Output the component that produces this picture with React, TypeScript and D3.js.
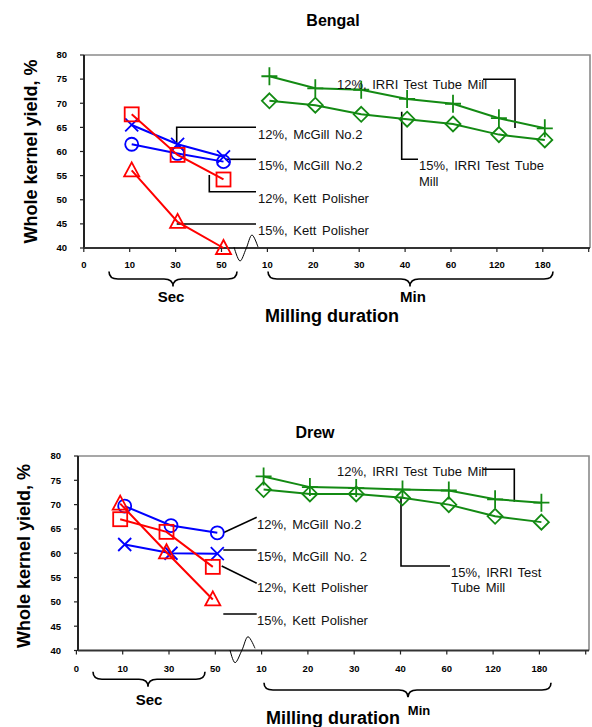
import React from "react";
import * as d3 from "d3";

// ---------- data ----------
const categories = ["0", "10", "30", "50", "10", "20", "30", "40", "60", "120", "180"];
const secIdx = [1, 2, 3];
const minIdx = [4, 5, 6, 7, 8, 9, 10];
const yTicks = [40, 45, 50, 55, 60, 65, 70, 75, 80];

// Bengal
const bengalMcGill12 = [65.5, 61.5, 58.9]; // X
const bengalMcGill15 = [61.5, 59.6, 57.9]; // circle
const bengalKett12 = [67.7, 59.3, 54.2]; // square
const bengalKett15 = [56.1, 45.4, 40.0]; // triangle
const bengalIrri12 = [75.6, 73.1, 72.8, 70.9, 69.9, 66.9, 64.8]; // plus
const bengalIrri15 = [70.5, 69.6, 67.7, 66.7, 65.7, 63.5, 62.4]; // diamond

// Drew
const drewMcGill12 = [69.7, 65.7, 64.2]; // circle
const drewMcGill15 = [61.8, 60.0, 59.9]; // X
const drewKett12 = [67.0, 64.4, 57.2]; // square
const drewKett15 = [70.2, 60.2, 50.5]; // triangle
const drewIrri12 = [75.8, 73.6, 73.4, 73.1, 72.9, 71.1, 70.4]; // plus
const drewIrri15 = [73.1, 72.2, 72.2, 71.4, 70.0, 67.6, 66.4]; // diamond

const BLUE = "#0000ff";
const RED = "#ff0000";
const GREEN = "#138a13";
const FONT = "'Liberation Sans', Arial, Helvetica, sans-serif";

type Series = { values: number[]; idx: number[]; color: string; marker: string; dx?: number };
type Ann = { lines: string[]; x: number; y: number; lh?: number; leader: [number, number][] };

function Marker({ type, cx, cy, color }: { type: string; cx: number; cy: number; color: string }) {
  const sw = 1.8;
  if (type === "circle") return <circle cx={cx} cy={cy} r={6.5} fill="none" stroke={color} strokeWidth={sw} />;
  if (type === "square") return <rect x={cx - 7} y={cy - 7} width={14} height={14} fill="none" stroke={color} strokeWidth={sw} />;
  if (type === "triangle")
    return <path d={`M${cx},${cy - 8}L${cx + 7.5},${cy + 6}L${cx - 7.5},${cy + 6}Z`} fill="none" stroke={color} strokeWidth={sw} />;
  if (type === "x")
    return (
      <path d={`M${cx - 6.5},${cy - 6.5}L${cx + 6.5},${cy + 6.5}M${cx - 6.5},${cy + 6.5}L${cx + 6.5},${cy - 6.5}`} stroke={color} strokeWidth={sw} />
    );
  if (type === "plus")
    return <path d={`M${cx - 8},${cy}L${cx + 8},${cy}M${cx},${cy - 9}L${cx},${cy + 9}`} stroke={color} strokeWidth={sw} />;
  if (type === "diamond")
    return <path d={`M${cx},${cy - 7.5}L${cx + 7.5},${cy}L${cx},${cy + 7.5}L${cx - 7.5},${cy}Z`} fill="none" stroke={color} strokeWidth={sw} />;
  return null;
}

function bracePath(x1: number, x2: number, xm: number, y0: number, d: number) {
  const h = d / 2;
  const r = 9;
  return `M${x1},${y0} Q${x1},${y0 + h} ${x1 + r},${y0 + h} L${xm - r},${y0 + h} Q${xm},${y0 + h} ${xm},${y0 + d} Q${xm},${y0 + h} ${xm + r},${y0 + h} L${x2 - r},${y0 + h} Q${x2},${y0 + h} ${x2},${y0}`;
}

type PanelProps = {
  title: string; titleX: number; titleY: number;
  left: number; top: number; bottom: number; right: number;
  xStart: number; step: number;
  yTitleX: number; yTitleY: number;
  tickLabelY: number;
  series: Series[];
  anns: Ann[];
  secBrace: [number, number, number, number, number];
  minBrace: [number, number, number, number, number];
  secText: [number, number]; minText: [number, number, number]; durText: [number, number];
  squiggle: [number, number][];
};

function Panel(p: PanelProps) {
  const x = d3.scaleLinear().domain([0, categories.length - 1]).range([p.xStart, p.xStart + p.step * (categories.length - 1)]);
  const y = d3.scaleLinear().domain([40, 80]).range([p.bottom, p.top]);
  const line = d3.line<[number, number]>().x((d) => d[0]).y((d) => d[1]);
  const squig = d3.line<[number, number]>().x((d) => d[0]).y((d) => d[1]).curve(d3.curveCatmullRom.alpha(0.5));
  const tickIdx = d3.range(0, categories.length + 1);
  return (
    <g fontFamily={FONT}>
      <text x={p.titleX} y={p.titleY} textAnchor="middle" fontWeight="bold" fontSize={16}>{p.title}</text>
      {/* frame */}
      <path d={`M${p.left},${p.top}H${p.right}V${p.bottom}`} fill="none" stroke="#8a8a8a" strokeWidth={1.6} />
      <line x1={p.left} x2={p.left} y1={p.top} y2={p.bottom} stroke="#222" strokeWidth={2} />
      <line x1={p.left} x2={p.right} y1={p.bottom} y2={p.bottom} stroke="#333" strokeWidth={1.8} />
      {/* y ticks */}
      {yTicks.map((t) => (
        <g key={t}>
          <line x1={p.left - 4} x2={p.left} y1={y(t)} y2={y(t)} stroke="#222" strokeWidth={1.2} />
          <text x={p.left - 17} y={y(t)} dy="0.35em" textAnchor="end" fontSize={9.5} fontWeight="bold">{t}</text>
        </g>
      ))}
      {/* x ticks */}
      {tickIdx.map((i) => (
        <line key={i} x1={x(i) - 2} x2={x(i) - 2} y1={p.bottom} y2={p.bottom + 4} stroke="#222" strokeWidth={1.2} />
      ))}
      {categories.map((c, i) => (
        <text key={i} x={x(i) - 2} y={p.tickLabelY} textAnchor="middle" fontSize={9.5} fontWeight="bold">{c}</text>
      ))}
      {/* squiggle */}
      <path d={squig(p.squiggle) || ""} fill="none" stroke="#000" strokeWidth={1} />
      {/* leaders */}
      {p.anns.map((a, i) => (
        <path key={i} d={line(a.leader) || ""} fill="none" stroke="#000" strokeWidth={1.6} />
      ))}
      {/* series */}
      {p.series.map((s, si) => {
        const pts: [number, number][] = s.values.map((v, j) => [x(s.idx[j]) + (s.dx || 0), y(v)]);
        return (
          <g key={si}>
            <path d={line(pts) || ""} fill="none" stroke={s.color} strokeWidth={2} />
            {pts.map((pt, j) => (
              <Marker key={j} type={s.marker} cx={pt[0]} cy={pt[1]} color={s.color} />
            ))}
          </g>
        );
      })}
      {/* annotation text */}
      {p.anns.map((a, i) => (
        <text key={i} x={a.x} y={a.y} fontSize={13} fill="#111" wordSpacing={2}>
          {a.lines.map((l, k) => (
            <tspan key={k} x={a.x} dy={k === 0 ? 0 : a.lh || 15}>{l}</tspan>
          ))}
        </text>
      ))}
      {/* braces */}
      <path d={bracePath(...p.secBrace)} fill="none" stroke="#000" strokeWidth={1.6} />
      <path d={bracePath(...p.minBrace)} fill="none" stroke="#000" strokeWidth={1.6} />
      <text x={p.secText[0]} y={p.secText[1]} textAnchor="middle" fontWeight="bold" fontSize={15}>Sec</text>
      <text x={p.minText[0]} y={p.minText[1]} textAnchor="middle" fontWeight="bold" fontSize={p.minText[2]}>Min</text>
      <text x={p.durText[0]} y={p.durText[1]} textAnchor="middle" fontWeight="bold" fontSize={18}>Milling duration</text>
      {/* y title */}
      <text transform={`translate(${p.yTitleX},${p.yTitleY}) rotate(-90)`} textAnchor="middle" dy="0.35em" fontWeight="bold" fontSize={18}>
        Whole kernel yield, %
      </text>
    </g>
  );
}

export default function App() {
  const bengalSeries: Series[] = [
    { values: bengalIrri12, idx: minIdx, color: GREEN, marker: "plus" },
    { values: bengalIrri15, idx: minIdx, color: GREEN, marker: "diamond" },
    { values: bengalMcGill12, idx: secIdx, color: BLUE, marker: "x" },
    { values: bengalMcGill15, idx: secIdx, color: BLUE, marker: "circle" },
    { values: bengalKett12, idx: secIdx, color: RED, marker: "square" },
    { values: bengalKett15, idx: secIdx, color: RED, marker: "triangle" },
  ];
  const drewSeries: Series[] = [
    { values: drewIrri12, idx: minIdx, color: GREEN, marker: "plus" },
    { values: drewIrri15, idx: minIdx, color: GREEN, marker: "diamond" },
    { values: drewMcGill12, idx: secIdx, color: BLUE, marker: "circle" },
    { values: drewMcGill15, idx: secIdx, color: BLUE, marker: "x" },
    { values: drewKett12, idx: secIdx, color: RED, marker: "square", dx: -4.5 },
    { values: drewKett15, idx: secIdx, color: RED, marker: "triangle", dx: -4.5 },
  ];
  const bengalAnns: Ann[] = [
    { lines: ["12%, McGill No.2"], x: 258, y: 138.5, leader: [[176.7, 144], [176.7, 127.3], [256, 127.3]] },
    { lines: ["15%, McGill No.2"], x: 258, y: 170, leader: [[225, 159.3], [256, 159.3]] },
    { lines: ["12%, Kett Polisher"], x: 258, y: 202.5, leader: [[209.3, 175], [209.3, 191.7], [256, 191.7]] },
    { lines: ["15%, Kett Polisher"], x: 258, y: 235, leader: [[176.7, 224], [256, 224]] },
    { lines: ["12%, IRRI Test Tube Mill"], x: 337, y: 89, leader: [[483, 79.3], [515, 79.3], [515, 128]] },
    { lines: ["15%, IRRI Test Tube", "Mill"], x: 419, y: 170, lh: 16, leader: [[401.7, 111.7], [401.7, 159.3], [418, 159.3]] },
  ];
  const drewAnns: Ann[] = [
    { lines: ["12%, McGill No.2"], x: 257, y: 529, leader: [[223.3, 532.7], [256.7, 517.3]] },
    { lines: ["15%, McGill No. 2"], x: 257, y: 561, leader: [[223.3, 550], [256.7, 550]] },
    { lines: ["12%, Kett Polisher"], x: 257, y: 592, leader: [[221.7, 566], [256.7, 583.3]] },
    { lines: ["15%, Kett Polisher"], x: 257, y: 624.5, leader: [[223.3, 614], [256.7, 614]] },
    { lines: ["12%, IRRI Test Tube Mill"], x: 337, y: 476, leader: [[483, 469.3], [514.3, 469.3], [514.3, 501.7]] },
    { lines: ["15%, IRRI Test", "Tube Mill"], x: 451, y: 577, lh: 14.5, leader: [[401, 496.7], [401, 566], [450, 566]] },
  ];
  return (
    <svg width={592} height={727} style={{ position: "absolute", left: 0, top: 0, background: "#fff" }}>
      <rect width={592} height={727} fill="#fff" />
      <Panel
        title="Bengal" titleX={333} titleY={26}
        left={84} top={55} bottom={248} right={590}
        xStart={85.8} step={45.9}
        yTitleX={31} yTitleY={151.5}
        tickLabelY={267.5}
        series={bengalSeries}
        anns={bengalAnns}
        secBrace={[109, 237, 173, 271.5, 15]}
        minBrace={[268, 553, 410, 271.5, 15]}
        secText={[171, 302]} minText={[413, 302, 15]} durText={[332, 322]}
        squiggle={[[234, 247], [240, 261], [246, 249], [252, 235], [258, 247]]}
      />
      <Panel
        title="Drew" titleX={315} titleY={438}
        left={78} top={456} bottom={650.5} right={589}
        xStart={78.4} step={46.3}
        yTitleX={24} yTitleY={556}
        tickLabelY={671.5}
        series={drewSeries}
        anns={drewAnns}
        secBrace={[93, 205, 148, 671.7, 15]}
        minBrace={[264, 551, 408, 682.7, 14.6]}
        secText={[149, 705]} minText={[419, 715, 13]} durText={[333, 724]}
        squiggle={[[230, 650], [235, 662.7], [242, 650], [248, 636.7], [255, 648.3]]}
      />
    </svg>
  );
}
